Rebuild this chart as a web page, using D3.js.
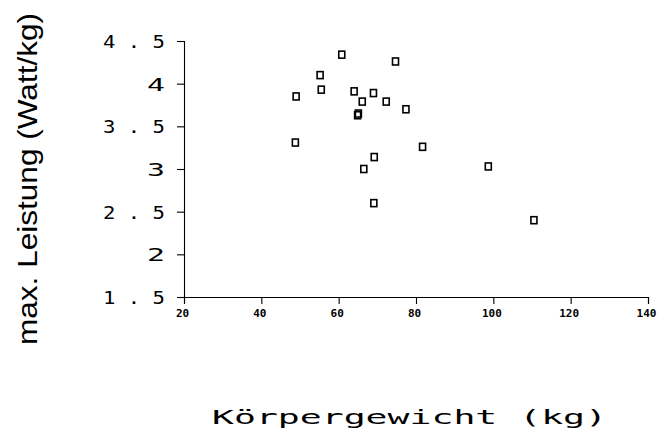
<!DOCTYPE html>
<html>
<head>
<meta charset="utf-8">
<script src="https://cdn.jsdelivr.net/npm/d3@7"></script>
<style>
  html, body { margin: 0; padding: 0; background: #fff; }
  svg { display: block; }
</style>
</head>
<body>
<svg id="chart" width="666" height="438"></svg>
<script>
// Körpergewicht (kg) and maximum power per kg for each subject
const bodyWeight = [60.8, 55.2, 55.5, 49.0, 48.8, 74.7, 64.0, 69.0, 66.1, 72.3,
                    77.4, 64.9, 65.1, 81.7, 69.2, 66.5, 69.1, 98.7, 110.5];
const maxPower   = [4.34, 4.10, 3.93, 3.85, 3.31, 4.26, 3.91, 3.89, 3.79, 3.79,
                    3.70, 3.63, 3.65, 3.26, 3.14, 3.00, 2.60, 3.03, 2.40];
const xTicks = [20, 40, 60, 80, 100, 120, 140];
const yTicks = [1.5, 2, 2.5, 3, 3.5, 4, 4.5];

const svg = d3.select("#chart");
const margin = {top: 41, right: 18, bottom: 141, left: 184};
const W = +svg.attr("width"), H = +svg.attr("height");

const x = d3.scaleLinear().domain([20, 140]).range([margin.left, W - margin.right]);
const y = d3.scaleLinear().domain([1.5, 4.5]).range([H - margin.bottom, margin.top]);

const mono = "'DejaVu Sans Mono', 'Liberation Mono', monospace";

// x axis
const gx = svg.append("g")
  .attr("transform", `translate(0,${y(1.5)})`)
  .call(d3.axisBottom(x).tickValues(xTicks).tickSizeOuter(0).tickSize(7).tickPadding(5)
        .tickFormat(d3.format("d")));
gx.selectAll("text")
  .attr("font-family", mono).attr("font-weight", "bold")
  .attr("font-size", 11).attr("fill", "#000")
  .attr("dx", -2);

// y axis, labels in a wide plotter-style lettering
const gy = svg.append("g")
  .attr("transform", `translate(${x(20)},0)`)
  .call(d3.axisLeft(y).tickValues(yTicks).tickSizeOuter(0).tickSize(7).tickPadding(12)
        .tickFormat(d => String(d).replace(".", " . ")));
gy.selectAll("text")
  .attr("font-family", mono)
  .attr("font-size", 18).attr("fill", "#000")
  .attr("dy", "0.36em")
  .attr("lengthAdjust", "spacingAndGlyphs")
  .attr("textLength", d => Number.isInteger(d) ? 18 : 62);

svg.selectAll(".domain, .tick line").attr("stroke", "#000").attr("stroke-width", 1.1);

// data points: open squares
const pts = d3.range(bodyWeight.length).map(i => ({w: bodyWeight[i], p: maxPower[i]}));
svg.append("g").selectAll("rect")
  .data(pts).join("rect")
  .attr("x", d => x(d.w) - 3)
  .attr("y", d => y(d.p) - 3.5)
  .attr("width", 6).attr("height", 7)
  .attr("fill", "none").attr("stroke", "#000").attr("stroke-width", 1.6);

// axis titles
svg.append("text")
  .attr("x", 212).attr("y", 424)
  .attr("font-family", mono).attr("font-size", 19)
  .attr("textLength", 395).attr("lengthAdjust", "spacingAndGlyphs")
  .attr("fill", "#000")
  .text("Körpergewicht (kg)");

svg.append("text")
  .attr("transform", "translate(37,179) rotate(-90)")
  .attr("text-anchor", "middle")
  .attr("font-family", "'Liberation Sans', Arial, sans-serif").attr("font-size", 28)
  .attr("textLength", 332).attr("lengthAdjust", "spacingAndGlyphs")
  .attr("fill", "#000")
  .text("max. Leistung (Watt/kg)");
</script>
</body>
</html>
